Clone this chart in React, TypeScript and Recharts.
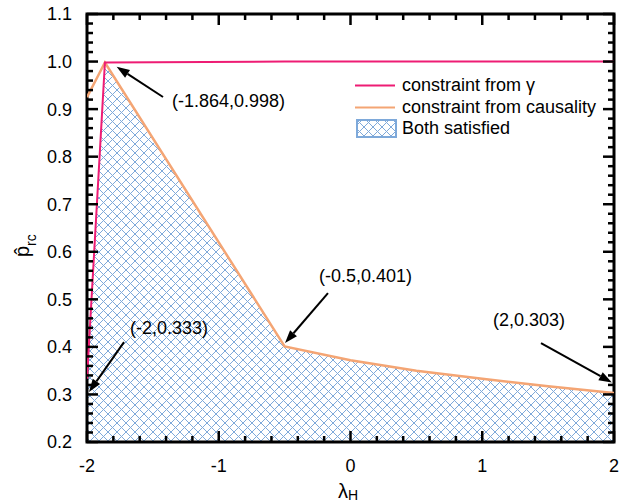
import React from 'react';
import {
  ComposedChart,
  Line,
  Area,
  XAxis,
  YAxis,
  ReferenceLine,
  ReferenceDot,
  ReferenceArea,
  Legend,
} from 'recharts';

const FONT = '"Liberation Sans", Arial, sans-serif';
const PINK = '#EE1C74';
const ORANGE = '#F4A574';
const HATCH = '#7EA9DA';

// values
const lambdaH = [-2, -1.864, -0.5, 0, 0.5, 1, 1.5, 2];
const gammaLimit = [0.333, 0.998, 1.0, 1.0, 1.0, 1.0, 1.0, 1.0];
const causalityLimit = [0.925, 0.998, 0.401, 0.372, 0.35, 0.333, 0.317, 0.303];

const xMajor = [-2, -1, 0, 1, 2];
const yMajor = [0.2, 0.3, 0.4, 0.5, 0.6, 0.7, 0.8, 0.9, 1.0, 1.1];

const legendItems = [
  { label: 'constraint from γ', kind: 'line', color: PINK },
  { label: 'constraint from causality', kind: 'line', color: ORANGE },
  { label: 'Both satisfied', kind: 'hatch', color: HATCH },
];

const annotations = [
  { text: '(-1.864,0.998)', at: [-1.355, 0.919], from: [-1.423, 0.9255], to: [-1.775, 0.989] },
  { text: '(-0.5,0.401)', at: [-0.239, 0.551], from: [-0.171, 0.513], to: [-0.497, 0.408] },
  { text: '(-2,0.333)', at: [-1.674, 0.44], from: [-1.719, 0.41], to: [-1.985, 0.305] },
  { text: '(2,0.303)', at: [1.082, 0.457], from: [1.446, 0.408], to: [1.984, 0.325] },
];

const table = lambdaH.map((x, i) => ({
  x,
  gamma: gammaLimit[i],
  causality: causalityLimit[i],
  both: Math.min(gammaLimit[i], causalityLimit[i]),
}));

// minor ticks: 5 steps between majors
function subdivide(major: number[], n: number) {
  const out: number[] = [];
  for (let i = 0; i < major.length - 1; i++) {
    const step = (major[i + 1] - major[i]) / n;
    for (let k = 0; k < n; k++) out.push(+(major[i] + k * step).toFixed(4));
  }
  out.push(major[major.length - 1]);
  return out;
}
const xTicks = subdivide(xMajor, 5);
const yTicks = subdivide(yMajor, 5);
const isMajor = (v: number, major: number[]) => major.some((m) => Math.abs(m - v) < 1e-6);

const MAJOR_LEN = 11;
const MINOR_LEN = 6;
const TICK_W = 2.5;

// inward ticks on both ends of a full-height / full-width reference line
function TickPair(p: any) {
  const { x1, y1, x2, y2, len, vertical } = p;
  if (vertical) {
    const top = Math.min(y1, y2);
    const bot = Math.max(y1, y2);
    return (
      <g>
        <line x1={x1} x2={x1} y1={bot} y2={bot - len} stroke="#000" strokeWidth={TICK_W} />
        <line x1={x1} x2={x1} y1={top} y2={top + len} stroke="#000" strokeWidth={TICK_W} />
      </g>
    );
  }
  const l = Math.min(x1, x2);
  const r = Math.max(x1, x2);
  return (
    <g>
      <line x1={l} x2={l + len} y1={y1} y2={y1} stroke="#000" strokeWidth={TICK_W} />
      <line x1={r} x2={r - len} y1={y1} y2={y1} stroke="#000" strokeWidth={TICK_W} />
    </g>
  );
}

function Arrow(p: any) {
  const { x1, y1, x2, y2 } = p;
  const a = Math.atan2(y2 - y1, x2 - x1);
  const len = 13;
  const half = 4.5;
  const bx = x2 - len * Math.cos(a);
  const by = y2 - len * Math.sin(a);
  const pts = `${x2},${y2} ${bx - half * Math.sin(a)},${by + half * Math.cos(a)} ${bx + half * Math.sin(a)},${by - half * Math.cos(a)}`;
  return (
    <g>
      <line x1={x1} y1={y1} x2={bx} y2={by} stroke="#000" strokeWidth={2} />
      <polygon points={pts} fill="#000" />
    </g>
  );
}

function LegendBox() {
  return (
    <div style={{ fontFamily: FONT, fontSize: 18, color: '#000' }}>
      {legendItems.map((item) => (
        <div key={item.label} style={{ display: 'flex', alignItems: 'center', height: 21.5 }}>
          <svg width={44} height={21} style={{ marginRight: 3 }}>
            <defs>
              <pattern id="hatchLegend" width={9} height={9} patternUnits="userSpaceOnUse">
                <path d="M0,0 L9,9 M9,0 L0,9" stroke={HATCH} strokeWidth={1} />
              </pattern>
            </defs>
            {item.kind === 'line' ? (
              <line x1={0} x2={40} y1={10.5} y2={10.5} stroke={item.color} strokeWidth={2} />
            ) : (
              <rect x={2} y={2} width={39} height={17} fill="url(#hatchLegend)" stroke={item.color} strokeWidth={2} />
            )}
          </svg>
          <span style={{ whiteSpace: 'nowrap' }}>{item.label}</span>
        </div>
      ))}
    </div>
  );
}

export default function App() {
  return (
    <div style={{ position: 'absolute', left: 0, top: 0, width: 620, height: 502, background: '#fff' }}>
      <ComposedChart width={620} height={502} data={table} margin={{ top: 14, right: 6, bottom: 0, left: 30 }}>
        <defs>
          <pattern id="hatch" width={9} height={9} patternUnits="userSpaceOnUse">
            <path d="M0,0 L9,9 M9,0 L0,9" stroke={HATCH} strokeWidth={1} />
          </pattern>
        </defs>
        <XAxis
          xAxisId="b"
          dataKey="x"
          type="number"
          domain={[-2, 2]}
          allowDataOverflow
          ticks={xMajor}
          interval={0}
          tickSize={0}
          tickMargin={17}
          tickLine={false}
          axisLine={false}
          tick={{ fontSize: 18, fontFamily: FONT, fill: '#000' }}
          height={60}
        />
        <YAxis
          yAxisId="l"
          type="number"
          domain={[0.2, 1.1]}
          allowDataOverflow
          ticks={yMajor}
          interval={0}
          tickSize={0}
          tickMargin={15}
          tickLine={false}
          axisLine={false}
          tickFormatter={(v: number) => v.toFixed(1)}
          tick={{ fontSize: 18, fontFamily: FONT, fill: '#000' }}
          width={57}
        />
        <Area
          xAxisId="b"
          yAxisId="l"
          type="linear"
          dataKey="both"
          name="Both satisfied"
          stroke="none"
          fill="url(#hatch)"
          fillOpacity={1}
          baseValue={0.2}
          isAnimationActive={false}
        />
        <Line
          xAxisId="b"
          yAxisId="l"
          type="linear"
          dataKey="causality"
          name="constraint from causality"
          stroke={ORANGE}
          strokeWidth={2.5}
          dot={false}
          activeDot={false}
          isAnimationActive={false}
        />
        <Line
          xAxisId="b"
          yAxisId="l"
          type="linear"
          dataKey="gamma"
          name="constraint from γ"
          stroke={PINK}
          strokeWidth={2}
          dot={false}
          activeDot={false}
          isAnimationActive={false}
        />
        {xTicks.map((v) => (
          <ReferenceLine
            key={'xt' + v}
            xAxisId="b"
            yAxisId="l"
            x={v}
            shape={<TickPair vertical len={isMajor(v, xMajor) ? MAJOR_LEN : MINOR_LEN} />}
          />
        ))}
        {yTicks.map((v) => (
          <ReferenceLine
            key={'yt' + v}
            xAxisId="b"
            yAxisId="l"
            y={v}
            shape={<TickPair len={isMajor(v, yMajor) ? MAJOR_LEN : MINOR_LEN} />}
          />
        ))}
        <ReferenceArea
          xAxisId="b"
          yAxisId="l"
          x1={-2}
          x2={2}
          y1={0.2}
          y2={1.1}
          fill="none"
          fillOpacity={0}
          stroke="#000"
          strokeWidth={3}
        />
        {annotations.map((a) => (
          <ReferenceLine
            key={'l' + a.text}
            xAxisId="b"
            yAxisId="l"
            segment={[
              { x: a.from[0], y: a.from[1] },
              { x: a.to[0], y: a.to[1] },
            ]}
            shape={<Arrow />}
          />
        ))}
        {annotations.map((a) => (
          <ReferenceDot
            key={'t' + a.text}
            xAxisId="b"
            yAxisId="l"
            x={a.at[0]}
            y={a.at[1]}
            r={0}
            shape={(p: any) => (
              <text x={p.cx} y={p.cy} dy="0.36em" fontSize={18} fontFamily={FONT} fill="#000">
                {a.text}
              </text>
            )}
          />
        ))}
        <Legend
          layout="vertical"
          align="center"
          verticalAlign="middle"
          content={() => <LegendBox />}
          wrapperStyle={{ position: 'absolute', left: 355, top: 75, width: 'auto' }}
        />
        <text x={338} y={498} fontSize={20} fontFamily={FONT} fill="#000">
          λ<tspan dy={2} fontSize={14}>H</tspan>
        </text>
        <text transform="translate(29,257) rotate(-90)" fontSize={20} fontFamily={FONT} fill="#000">
          p̂<tspan dy={7} fontSize={14}>rc</tspan>
        </text>
      </ComposedChart>
    </div>
  );
}
